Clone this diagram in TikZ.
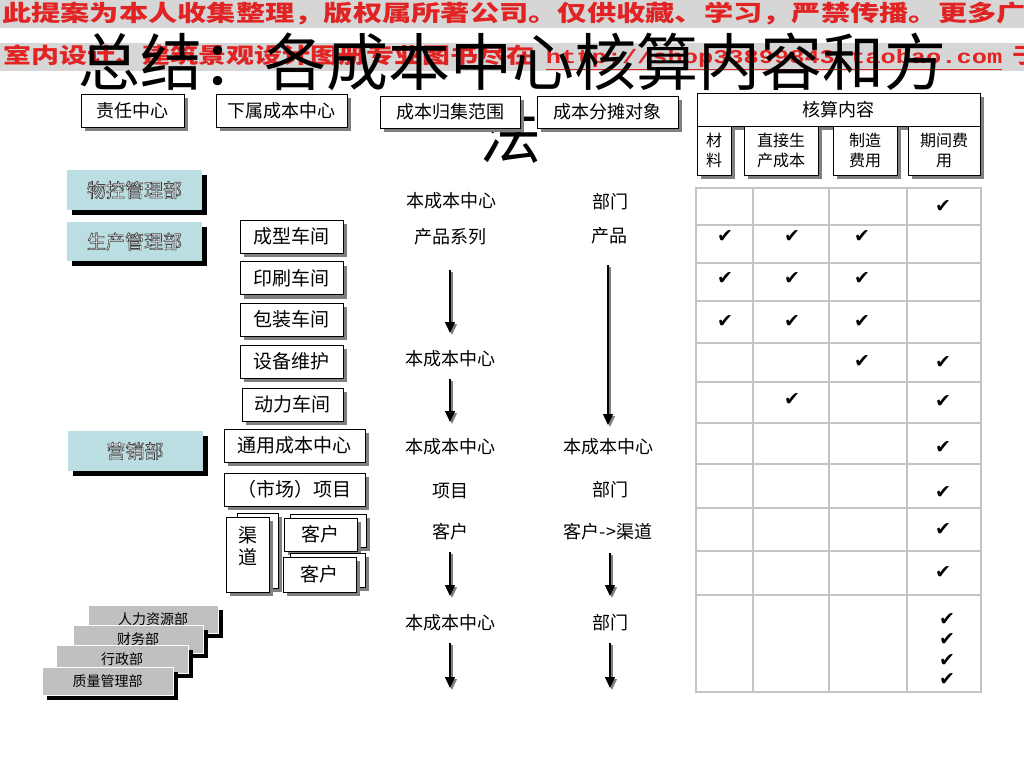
\documentclass[tikz,border=0pt]{standalone}
\usepackage{fontspec}
\setmainfont{Noto Sans CJK SC}
\newfontfamily\symf{DejaVu Sans}
\newfontfamily\monof{Liberation Mono}
\usetikzlibrary{shadows,arrows.meta}
\definecolor{bandgray}{RGB}{214,214,214}
\definecolor{wmred}{RGB}{225,35,35}
\definecolor{deptblue}{RGB}{186,222,225}
\definecolor{boxgray}{RGB}{192,192,192}
\definecolor{gridgray}{RGB}{196,196,196}
\definecolor{shgray}{RGB}{128,128,128}
\newcommand\outlined[1]{\special{pdf:literal 2 Tr 0.6 w 0.25 G}#1\special{pdf:literal 0 Tr 0 G}}
\begin{document}
\begin{tikzpicture}[x=1pt,y=-1pt,
  hdr/.style={draw=black,line width=0.9pt,fill=white,inner sep=0pt,font=\fontsize{18}{20}\selectfont,
    drop shadow={shadow xshift=4pt,shadow yshift=-4pt,fill=shgray,opacity=1}},
  sub/.style={hdr,font=\fontsize{16}{20}\selectfont,align=center},
  ws/.style={hdr,font=\fontsize{19}{22}\selectfont},
  dept/.style={fill=deptblue,draw=none,inner sep=0pt,text=white,font=\fontsize{19}{22}\selectfont,
    minimum width=135pt,minimum height=40pt,
    drop shadow={shadow xshift=5pt,shadow yshift=-5pt,fill=black,opacity=1}},
  gbox/.style={fill=boxgray,draw=white,line width=0.8pt,inner sep=0pt,minimum height=28pt,
    font=\fontsize{14}{16}\selectfont,
    drop shadow={shadow xshift=5pt,shadow yshift=-5pt,fill=black,opacity=1}},
  mid/.style={font=\fontsize{18}{20}\selectfont,inner sep=0pt},
  chk/.style={font=\symf\fontsize{19}{19}\selectfont,inner sep=0pt},
  arr/.style={draw=black,line width=1.4pt,-{Triangle[width=10pt,length=11pt]}},
  arrsh/.style={draw=shgray,line width=1.4pt,-{Triangle[width=10pt,length=11pt]},transform canvas={xshift=2pt,yshift=-2pt}},
  grid/.style={draw=gridgray,line width=1.5pt},
  wm/.style={anchor=west,inner sep=0pt,text=wmred}
]
\useasboundingbox (0,0) rectangle (1024,768);
\fill[white] (0,0) rectangle (1024,768);

% watermark bands
\fill[bandgray] (0,0) rectangle (1024,28);
\fill[bandgray] (0,43) rectangle (1024,71);
\node[wm,font=\bfseries\fontsize{22.5}{24}\selectfont] (wm1) at (2,14)
  {\scalebox{1.3}[1]{此提案为本人收集整理，版权属所著公司。仅供收藏、学习，严禁传播。更多广}};
\node[wm,font=\bfseries\fontsize{21.5}{24}\selectfont] (wm2) at (3,57)
  {\scalebox{1.3}[1]{室内设计、建筑景观设计图册专业图书尽在\hspace{9pt}{\monof\fontsize{19.5}{22}\selectfont\underline{http://shop33899843.taobao.com}}\hspace{8pt}于}};

% title
\node[inner sep=0pt,font=\fontsize{62}{70}\selectfont] (title) at (512,62) {总结：各成本中心核算内容和方};
\node[inner sep=0pt,font=\fontsize{62}{70}\selectfont] (title2) at (510,135) {法};

% header boxes
\node[hdr,minimum width=103pt,minimum height=33pt] (zr) at (132.5,110.5) {责任中心};
\node[hdr,minimum width=131pt,minimum height=33pt] (xs) at (281.5,110.5) {下属成本中心};
\node[hdr,minimum width=140pt,minimum height=32pt] (gj) at (450,112) {成本归集范围};
\node[hdr,minimum width=141pt,minimum height=32pt] (ft) at (607.5,112) {成本分摊对象};
\node[hdr,minimum width=283pt,minimum height=33pt] (hs) at (838.5,109.5) {核算内容};
\node[sub,minimum width=34pt,minimum height=49pt] (cl) at (714,150.5) {材\\料};
\node[sub,minimum width=74pt,minimum height=49pt] (zj) at (781,150.5) {直接生\\产成本};
\node[sub,minimum width=64pt,minimum height=49pt] (zz) at (865,150.5) {制造\\费用};
\node[sub,minimum width=72pt,minimum height=49pt] (qj) at (944,150.5) {期间费\\用};

% departments
\node[dept] (wk) at (134.5,190) {\outlined{物控管理部}};
\node[dept,minimum height=39pt] (sc) at (134.5,241.5) {\outlined{生产管理部}};
\node[dept] (yx) at (135,451) {\outlined{营销部}};

% workshops
\node[ws,minimum width=103pt,minimum height=33pt] (cx) at (291.5,236.5) {成型车间};
\node[ws,minimum width=103pt,minimum height=33pt] (ys) at (291.5,278) {印刷车间};
\node[ws,minimum width=103pt,minimum height=33pt] (bz) at (291.5,319.5) {包装车间};
\node[ws,minimum width=103pt,minimum height=33pt] (sb) at (291.5,361.5) {设备维护};
\node[ws,minimum width=101pt,minimum height=33pt] (dl) at (292.5,404.5) {动力车间};
\node[ws,minimum width=141pt,minimum height=33pt] (ty) at (294.5,445.5) {通用成本中心};
\node[ws,minimum width=141pt,minimum height=33pt] (sx) at (294.5,489.5) {（市场）项目};
\node[ws,minimum width=41pt,minimum height=75pt] (qdb) at (257.5,550.5) {};
\node[ws,minimum width=43pt,minimum height=75pt] (qdf) at (247.5,554.5) {};
\node[mid,font=\fontsize{19}{22}\selectfont,align=center] (qdt) at (247.5,546) {渠\\道};
\node[ws,minimum width=76pt,minimum height=33pt] (kb1) at (328,530.5) {};
\node[ws,minimum width=73pt,minimum height=33pt] (kf1) at (320.5,534.5) {客户};
\node[ws,minimum width=75pt,minimum height=34pt] (kb2) at (327.5,570) {};
\node[ws,minimum width=73pt,minimum height=35pt] (kf2) at (319.5,574.5) {客户};

% support departments
\node[gbox,minimum width=130pt] (hr) at (153,619) {人力资源部};
\node[gbox,minimum width=130pt] (fin) at (138,639) {财务部};
\node[gbox,minimum width=132pt] (adm) at (122,659) {行政部};
\node[gbox,minimum width=131pt] (qa) at (107.5,681) {质量管理部};

% collection column
\node[mid] (a1) at (451,201) {本成本中心};
\node[mid] (a2) at (450,237) {产品系列};
\node[mid] (a3) at (450,359) {本成本中心};
\node[mid] (a4) at (450,447) {本成本中心};
\node[mid] (a5) at (450,491) {项目};
\node[mid] (a6) at (450,532) {客户};
\node[mid] (a7) at (450,623) {本成本中心};
% allocation column
\node[mid] (b1) at (610,202) {部门};
\node[mid] (b2) at (609,236) {产品};
\node[mid] (b3) at (608,447) {本成本中心};
\node[mid] (b4) at (610,490) {部门};
\node[mid] (b5) at (608,532) {客户->渠道};
\node[mid] (b6) at (610,623) {部门};

% arrows
\coordinate (m1s) at (450,270); \coordinate (m1e) at (450,333);
\coordinate (m2s) at (450,379); \coordinate (m2e) at (450,422);
\coordinate (m3s) at (450,552); \coordinate (m3e) at (450,596);
\coordinate (m4s) at (450,643); \coordinate (m4e) at (450,688);
\coordinate (r1s) at (608,265); \coordinate (r1e) at (608,425);
\coordinate (r3s) at (610,553); \coordinate (r3e) at (610,596);
\coordinate (r4s) at (610,643); \coordinate (r4e) at (610,688);
\foreach \s/\e in {m1s/m1e,m2s/m2e,m3s/m3e,m4s/m4e,r1s/r1e,r3s/r3e,r4s/r4e}{
  \draw[arrsh] (\s) -- (\e);
  \draw[arr] (\s) -- (\e);
}

% table grid
\draw[grid] (696,188) rectangle (981,692);
\foreach \x in {753,829,907} \draw[grid] (\x,188) -- (\x,692);
\foreach \y in {225,263,301,343,382,423,464,508,551,595} \draw[grid] (696,\y) -- (981,\y);

% check marks
\foreach \n/\x/\y in {1/943/207,
  2/725/237,3/792/237,4/862/237,
  5/725/279,6/792/279,7/862/279,
  8/725/322,9/792/322,10/862/322,
  11/862/362,12/943/363,
  13/792/400,14/943/402,
  15/943/447,16/943/492,17/943/529,18/943/572,
  19/947/619,20/947/639,21/947/660,22/947/679}
  \node[chk] (ck\n) at (\x,\y) {✔};
\end{tikzpicture}
\end{document}
